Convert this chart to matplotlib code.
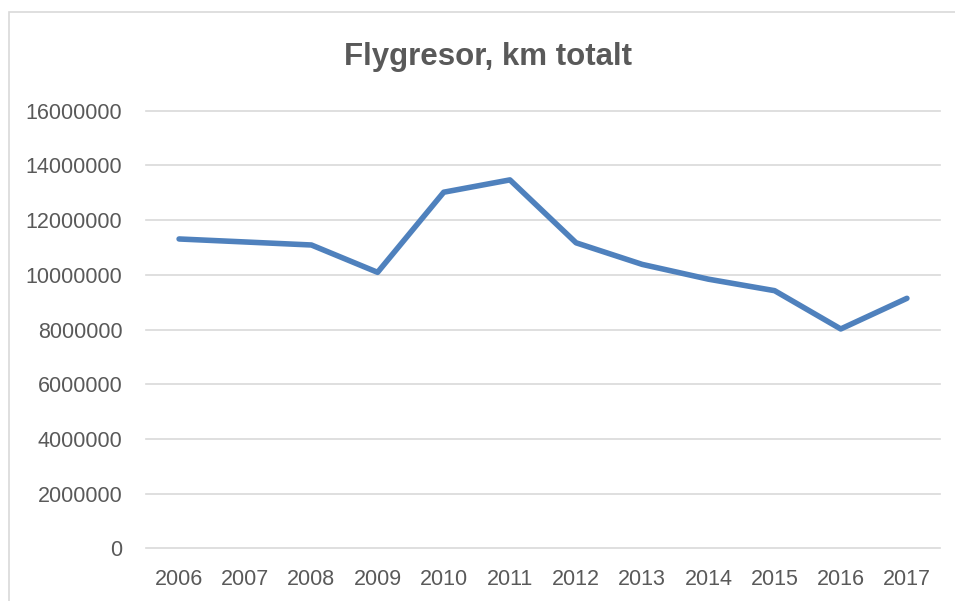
import matplotlib
matplotlib.use("Agg")
import matplotlib.pyplot as plt
from matplotlib.patches import Rectangle

years = ["2006", "2007", "2008", "2009", "2010", "2011", "2012", "2013", "2014", "2015", "2016", "2017"]
values = [11310000, 11200000, 11090000, 10090000, 13020000, 13470000, 11170000, 10380000, 9840000, 9420000, 8020000, 9140000]
yticks = [0, 2000000, 4000000, 6000000, 8000000, 10000000, 12000000, 14000000, 16000000]

plt.rcParams['font.family'] = ['Liberation Sans', 'DejaVu Sans']
W, H = 955, 601
fig = plt.figure(figsize=(W / 100, H / 100), dpi=100)
fig.patch.set_facecolor("white")

# chart border (cropped at right / bottom)
fig.patches.append(Rectangle((9 / W, -0.1), 1.2, 1 - 12 / H + 0.1, transform=fig.transFigure,
                             fill=False, edgecolor="#d9d9d9", linewidth=1.2))

ax = fig.add_axes([146 / W, 1 - 548.3 / H, (940 - 146) / W, (548.3 - 110.7) / H])
x = list(range(len(years)))
ax.plot(x, values, color="#4f81bd", linewidth=4.0, solid_capstyle="round", solid_joinstyle="round", zorder=3)
ax.set_xlim(-0.5, len(years) - 0.5)
ax.set_ylim(0, 16000000)
ax.set_yticks(yticks)
ax.set_yticklabels([str(v) for v in yticks])
ax.set_xticks(x)
ax.set_xticklabels(years)
ax.grid(axis="y", color="#d9d9d9", linewidth=1.2)
for gl in ax.get_ygridlines():
    gl.set_clip_on(False)
ax.set_axisbelow(True)
for s in ax.spines.values():
    s.set_visible(False)
ax.tick_params(axis="both", length=0, labelsize=15.5, colors="#595959")
ax.tick_params(axis="y", pad=17)
ax.tick_params(axis="x", pad=15)

fig.text(488 / W, 1 - 57 / H, "Flygresor, km totalt", ha="center", va="center",
         fontsize=22.5, fontweight="bold", color="#595959")

fig.savefig("out.png", dpi=100)
